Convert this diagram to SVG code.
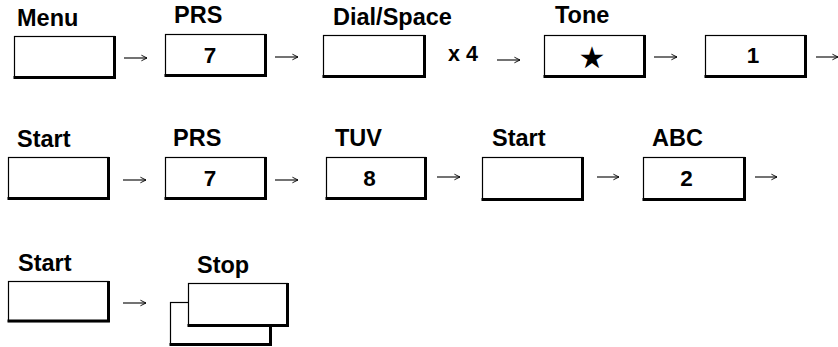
<svg xmlns="http://www.w3.org/2000/svg" width="838" height="347" viewBox="0 0 838 347">
<style>
.bx rect{fill:#fff;stroke:#000;stroke-width:1.2}
.bx polyline{fill:none;stroke:#000;stroke-width:3}
.lbl{font-family:"Liberation Sans",Arial,sans-serif;font-weight:bold;font-size:23.5px;fill:#000}
.key{font-family:"Liberation Sans",Arial,sans-serif;font-weight:bold;font-size:22.5px;fill:#000;text-anchor:middle}
.star{font-family:"DejaVu Sans",sans-serif;font-size:30px;fill:#000;text-anchor:middle}
.cn path{fill:none;stroke:#000;stroke-width:1.1}
</style>
<defs>
<marker id="ah" viewBox="0 0 10 10" refX="9" refY="5" markerWidth="7" markerHeight="9" markerUnits="userSpaceOnUse" orient="auto">
<path d="M1,1 L9,5 L1,9" fill="none" stroke="#000" stroke-width="1.3"/>
</marker>
</defs>

<g id="n-menu" class="bx">
<text class="lbl" x="17" y="26">Menu</text>
<rect x="14.5" y="36.5" width="100" height="41"/>
<polyline points="13.5,77.5 114.5,77.5 114.5,36"/>
</g>
<g id="n-prs1" class="bx">
<text class="lbl" x="174" y="23">PRS</text>
<rect x="165.5" y="34.5" width="100" height="41"/>
<polyline points="164.5,75.5 265.5,75.5 265.5,34"/>
<text class="key" x="210" y="63">7</text>
</g>
<g id="n-dial" class="bx">
<text class="lbl" x="333" y="25">Dial/Space</text>
<rect x="323.5" y="35.5" width="101" height="41"/>
<polyline points="322.5,76.5 424.5,76.5 424.5,35"/>
<text class="lbl" x="448" y="61" style="font-size:21.5px">x 4</text>
</g>
<g id="n-tone" class="bx">
<text class="lbl" x="555" y="23">Tone</text>
<rect x="544.5" y="35.5" width="100" height="41"/>
<polyline points="543.5,76.5 644.5,76.5 644.5,35"/>
<text class="star" x="592" y="68">★</text>
</g>
<g id="n-one" class="bx">
<rect x="705.5" y="35.5" width="100" height="41"/>
<polyline points="704.5,76.5 805.5,76.5 805.5,35"/>
<text class="key" x="753" y="63">1</text>
</g>

<g id="n-start1" class="bx">
<text class="lbl" x="17" y="147">Start</text>
<rect x="8.5" y="157.5" width="100" height="41"/>
<polyline points="7.5,198.5 108.5,198.5 108.5,157"/>
</g>
<g id="n-prs2" class="bx">
<text class="lbl" x="173" y="146">PRS</text>
<rect x="165.5" y="157.5" width="100" height="41"/>
<polyline points="164.5,198.5 265.5,198.5 265.5,157"/>
<text class="key" x="210" y="186">7</text>
</g>
<g id="n-tuv" class="bx">
<text class="lbl" x="335" y="146">TUV</text>
<rect x="326.5" y="157.5" width="99" height="41"/>
<polyline points="325.5,198.5 425.5,198.5 425.5,157"/>
<text class="key" x="369.5" y="186">8</text>
</g>
<g id="n-start2" class="bx">
<text class="lbl" x="492" y="146">Start</text>
<rect x="482.5" y="157.5" width="100" height="42"/>
<polyline points="481.5,199.5 582.5,199.5 582.5,157"/>
</g>
<g id="n-abc" class="bx">
<text class="lbl" x="652" y="146">ABC</text>
<rect x="643.5" y="157.5" width="101" height="42"/>
<polyline points="642.5,199.5 744.5,199.5 744.5,157"/>
<text class="key" x="686.5" y="186">2</text>
</g>

<g id="n-start3" class="bx">
<text class="lbl" x="18" y="271">Start</text>
<rect x="8.5" y="281.5" width="100" height="40"/>
<polyline points="7.5,321 108.5,321 108.5,281"/>
</g>
<g id="n-stop" class="bx">
<text class="lbl" x="197" y="273">Stop</text>
<rect x="170.5" y="302.5" width="100" height="42"/>
<polyline points="169.5,344.5 270.5,344.5 270.5,302"/>
<rect x="188.5" y="283.5" width="99" height="42"/>
<polyline points="187.5,325.5 287.5,325.5 287.5,283"/>
</g>

<g id="connectors" class="cn">
<path d="M124,58 H147" marker-end="url(#ah)"/>
<path d="M275,57 H298" marker-end="url(#ah)"/>
<path d="M497,60 H520" marker-end="url(#ah)"/>
<path d="M654,57 H677" marker-end="url(#ah)"/>
<path d="M816,57 H838" marker-end="url(#ah)"/>
<path d="M123,180 H146" marker-end="url(#ah)"/>
<path d="M275,180 H298" marker-end="url(#ah)"/>
<path d="M437,177 H460" marker-end="url(#ah)"/>
<path d="M597,177 H619" marker-end="url(#ah)"/>
<path d="M755,177 H777" marker-end="url(#ah)"/>
<path d="M123,303 H146" marker-end="url(#ah)"/>
</g>
</svg>
